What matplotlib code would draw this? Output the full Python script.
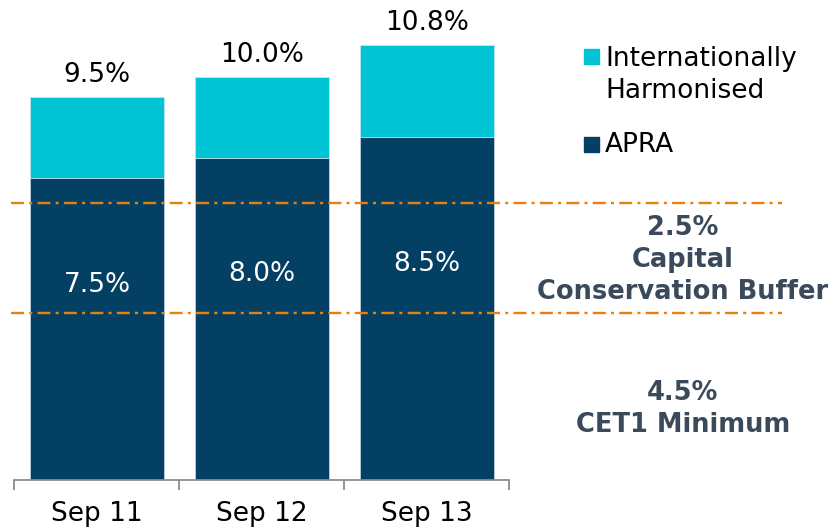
import matplotlib.pyplot as plt
from matplotlib.patches import Rectangle

# Data
periods = ["Sep 11", "Sep 12", "Sep 13"]
apra = [7.5, 8.0, 8.5]
totals = [9.5, 10.0, 10.8]
harmonised = [t - a for t, a in zip(totals, apra)]

NAVY = "#034063"
CYAN = "#00C4D5"
ORANGE = "#E8800E"
SLATE = "#3A4A5B"

fig = plt.figure(figsize=(8.35, 5.3), dpi=100)
ax = fig.add_axes([11 / 835, 50 / 530, 771 / 835, 480 / 530])

x = list(range(len(periods)))
ax.bar(x, apra, width=0.81, color=NAVY, edgecolor="#dfe8ee", linewidth=0.4)
ax.bar(x, harmonised, bottom=apra, width=0.81, color=CYAN,
       edgecolor="#dfe8ee", linewidth=0.4)

# value labels
for xi, a, t in zip(x, apra, totals):
    ax.text(xi, t + 0.55, f"{t:.1f}%", ha="center", va="center",
            fontsize=19, color="black")
    ax.text(xi, a / 2 + 1.1, f"{a:.1f}%", ha="center", va="center",
            fontsize=19, color="white")

# regulatory lines
for lvl in (6.87, 4.14):
    ax.axhline(lvl, color=ORANGE, lw=1.7, linestyle=(0, (5.5, 2.2, 1.3, 2.2)))

ax.set_xlim(-0.521, 4.152)
ax.set_ylim(0, 480 / 40.3)

# axis styling
for s in ("top", "right", "left"):
    ax.spines[s].set_visible(False)
ax.spines["bottom"].set_bounds(-0.5, 2.5)
ax.spines["bottom"].set_color("#8c8c8c")
ax.spines["bottom"].set_linewidth(1.3)
ax.set_yticks([])
ax.set_xticks(x)
ax.set_xticklabels(periods, fontsize=19)
ax.tick_params(axis="x", which="major", length=0, pad=15)
ax.set_xticks([-0.5, 0.5, 1.5, 2.5], minor=True)
ax.tick_params(axis="x", which="minor", length=7, width=1.3, color="#8c8c8c",
               direction="out")

# legend drawn by hand
W, H = 835, 530
fig.add_artist(Rectangle((584 / W, 1 - 64 / H), 15 / W, 15 / H,
                         transform=fig.transFigure, color=CYAN))
fig.add_artist(Rectangle((584 / W, 1 - 152 / H), 15 / W, 15 / H,
                         transform=fig.transFigure, color=NAVY))
fig.text(605 / W, 1 - 75 / H, "Internationally\nHarmonised", fontsize=19,
         va="center", ha="left", linespacing=1.35)
fig.text(605 / W, 1 - 145 / H, "APRA", fontsize=19, va="center", ha="left")

# right side annotations
fig.text(683 / W, 1 - 260 / H, "2.5%\nCapital\nConservation Buffer",
         fontsize=18.5, fontweight="bold", color=SLATE, ha="center",
         va="center", linespacing=1.3)
fig.text(683 / W, 1 - 409 / H, "4.5%\nCET1 Minimum", fontsize=18.5,
         fontweight="bold", color=SLATE, ha="center", va="center",
         linespacing=1.3)

fig.savefig("out.png", dpi=100)
